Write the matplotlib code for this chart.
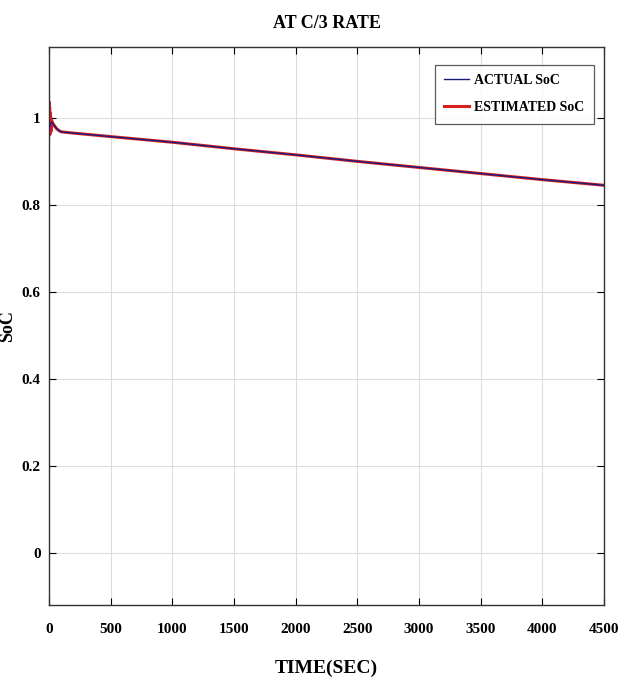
import matplotlib
matplotlib.use("Agg")
from matplotlib import pyplot as plt

# time axis (seconds) and SoC values
time_actual = [0, 10, 20, 30, 45, 60, 80, 100, 130, 200, 500, 1000, 1500,
               2000, 2500, 3000, 3500, 4000, 4500]
soc_actual = [0.972, 0.985, 0.990, 0.988, 0.982, 0.976, 0.971, 0.968, 0.967,
              0.965, 0.957, 0.944, 0.929, 0.915, 0.900, 0.886, 0.872, 0.858,
              0.845]

time_est = [0, 2, 4, 6, 8, 10, 12, 14, 16, 18, 20, 25, 30, 40, 60, 80, 100,
            130, 200, 500, 1000, 1500, 2000, 2500, 3000, 3500, 4000, 4500]
soc_est = [1.0, 1.037, 0.960, 1.025, 0.962, 1.012, 0.965, 1.003, 0.968,
           0.996, 0.972, 0.992, 0.988, 0.984, 0.976, 0.971, 0.968, 0.967,
           0.965, 0.957, 0.944, 0.929, 0.915, 0.900, 0.886, 0.872, 0.858,
           0.845]

x_ticks = [0, 500, 1000, 1500, 2000, 2500, 3000, 3500, 4000, 4500]
y_ticks = [0, 0.2, 0.4, 0.6, 0.8, 1.0]
y_tick_labels = ['0', '0.2', '0.4', '0.6', '0.8', '1']

plt.rcParams['font.family'] = ['Liberation Serif', 'DejaVu Serif']
plt.rcParams['font.weight'] = 'bold'

fig = plt.figure(figsize=(6.19, 6.84), dpi=100)
ax = fig.add_axes([0.079, 0.1155, 0.897, 0.8158])

# estimated drawn thick underneath, actual thin on top
ax.plot(time_est, soc_est, color='#d92020', linewidth=2.2,
        label='ESTIMATED SoC', zorder=2)
ax.plot(time_actual, soc_actual, color='#1c1c7a', linewidth=1.0,
        label='ACTUAL SoC', zorder=3)

ax.set_xlim(0, 4500)
ax.set_ylim(-0.12, 1.163)
ax.set_xticks(x_ticks)
ax.set_yticks(y_ticks)
ax.set_yticklabels(y_tick_labels)

ax.tick_params(direction='in', top=True, right=True, length=5,
               labelsize=11, width=0.8)
ax.tick_params(axis='x', pad=13)
ax.tick_params(axis='y', pad=6)
for lab in ax.get_xticklabels() + ax.get_yticklabels():
    lab.set_fontweight('bold')

ax.grid(True, color='#dddddd', linewidth=0.8)
ax.set_axisbelow(True)
for sp in ax.spines.values():
    sp.set_color('#333333')
    sp.set_linewidth(1.0)

ax.set_title('AT C/3 RATE', fontsize=13, fontweight='bold', pad=14)
ax.set_xlabel('TIME(SEC)', fontsize=14, fontweight='bold', labelpad=17)
ax.set_ylabel('SoC', fontsize=13, fontweight='bold', labelpad=4)

handles, labels = ax.get_legend_handles_labels()
leg = ax.legend(handles[::-1], labels[::-1], loc='upper right',
                fontsize=10, frameon=True, fancybox=False,
                edgecolor='#333333', handlelength=1.8, borderpad=0.7,
                labelspacing=1.0, handletextpad=0.3,
                bbox_to_anchor=(0.9935, 0.981))
leg.get_frame().set_linewidth(0.9)

fig.savefig('out.png', dpi=100)
